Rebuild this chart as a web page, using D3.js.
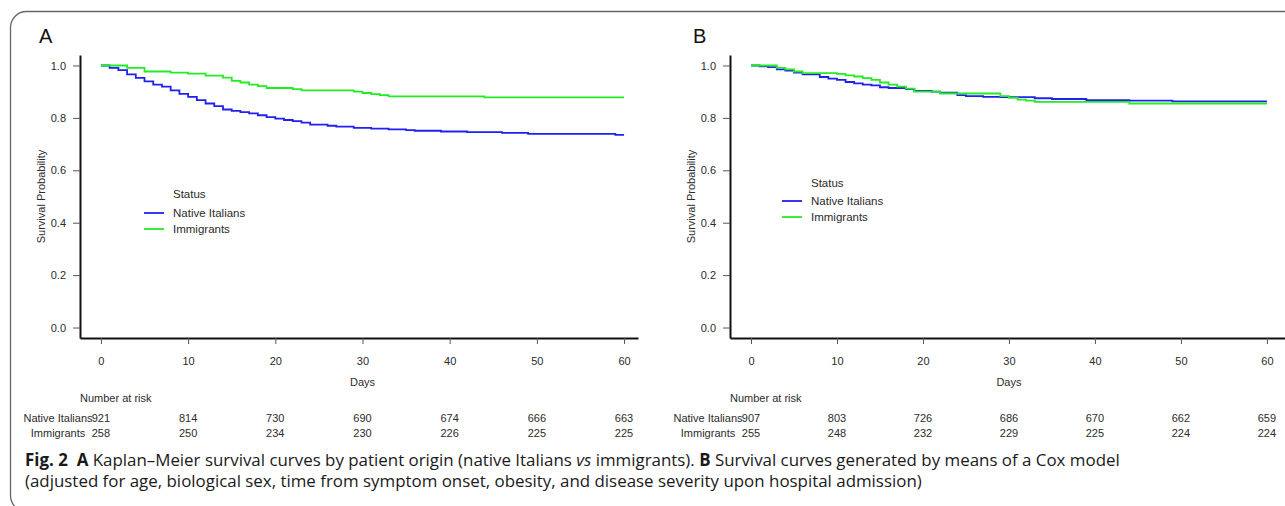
<!DOCTYPE html>
<html>
<head>
<meta charset="utf-8">
<script src="https://cdn.jsdelivr.net/npm/d3@7"></script>
<style>
  body { margin: 0; background: #fff; }
  #graph { width: 1285px; height: 506px; }
  svg { display: block; }
</style>
</head>
<body>
<div id="graph"></div>
<script>
const width = 1285;
const height = 506;

const groups = ["Native Italians", "Immigrants"];
const group_colors = ["#2020f0", "#22ec22"];
const day_ticks = [0, 10, 20, 30, 40, 50, 60];
const surv_ticks = [0.0, 0.2, 0.4, 0.6, 0.8, 1.0];
const last_day = 60;

// panel A - Kaplan-Meier, day of each drop and survival right after it
const a_native_days = [0, 1, 2, 3, 4, 5, 6, 7, 8, 9, 10, 11, 12, 13, 14, 15, 16, 17, 18, 19, 20, 21, 22, 23, 24, 26, 27, 29, 31, 33, 35, 36, 39, 42, 46, 49, 59];
const a_native_surv = [1.0, 0.991, 0.982, 0.966, 0.953, 0.939, 0.927, 0.919, 0.905, 0.892, 0.880, 0.868, 0.855, 0.845, 0.832, 0.827, 0.822, 0.817, 0.810, 0.803, 0.797, 0.792, 0.788, 0.782, 0.774, 0.770, 0.767, 0.762, 0.759, 0.756, 0.753, 0.751, 0.748, 0.746, 0.743, 0.739, 0.735];
const a_immig_days = [0, 3, 5, 8, 10, 12, 14, 15, 16, 17, 18, 19, 22, 23, 29, 30, 31, 32, 33, 44];
const a_immig_surv = [1.0, 0.991, 0.977, 0.973, 0.969, 0.961, 0.954, 0.941, 0.935, 0.927, 0.921, 0.914, 0.910, 0.905, 0.900, 0.895, 0.891, 0.887, 0.882, 0.878];

// panel B - adjusted Cox model curves
const b_native_days = [0, 1, 2, 3, 4, 5, 6, 8, 9, 10, 11, 12, 13, 14, 15, 16, 18, 19, 21, 22, 24, 25, 27, 29, 33, 35, 39, 44, 49];
const b_native_surv = [1.0, 0.997, 0.994, 0.985, 0.980, 0.973, 0.966, 0.956, 0.950, 0.945, 0.937, 0.932, 0.927, 0.924, 0.917, 0.914, 0.910, 0.903, 0.900, 0.896, 0.887, 0.883, 0.880, 0.879, 0.875, 0.872, 0.868, 0.866, 0.863];
const b_immig_days = [0, 3, 4, 5, 6, 10, 11, 12, 13, 14, 15, 16, 17, 18, 19, 22, 29, 30, 31, 32, 33, 44];
const b_immig_surv = [1.0, 0.991, 0.985, 0.977, 0.971, 0.968, 0.962, 0.958, 0.952, 0.945, 0.935, 0.927, 0.919, 0.912, 0.900, 0.893, 0.883, 0.876, 0.870, 0.866, 0.861, 0.855];

// number at risk tables
const a_risk_native = [921, 814, 730, 690, 674, 666, 663];
const a_risk_immig = [258, 250, 234, 230, 226, 225, 225];
const b_risk_native = [907, 803, 726, 686, 670, 662, 659];
const b_risk_immig = [255, 248, 232, 229, 225, 224, 224];

const chart_font = "'Liberation Sans', Arial, sans-serif";
const text_color = "#2b2b2b";

// layout of both panels (pixel boxes, x domain stretched like R's 4% padding)
const panels = [
  { label: "A", label_x: 39, x_domain: [-2.4, 61.6], x_range: [80, 638], leg_x: 144, leg_y: 194, leg_gap: [19, 35],
    series: [[a_native_days, a_native_surv], [a_immig_days, a_immig_surv]], risk: [a_risk_native, a_risk_immig] },
  { label: "B", label_x: 693, x_domain: [-2.44, 62.8], x_range: [730, 1291], leg_x: 782, leg_y: 183, leg_gap: [18, 34],
    series: [[b_native_days, b_native_surv], [b_immig_days, b_immig_surv]], risk: [b_risk_native, b_risk_immig] }
];

const y_top = 55, y_bottom = 338;

const svg = d3.select('#graph')
  .append('svg')
  .attr('width', width)
  .attr('height', height);

// rounded frame around the whole figure (right and bottom side run off the page)
svg.append('rect')
  .attr('x', 10.5).attr('y', 11.5)
  .attr('width', 1320).attr('height', 500)
  .attr('rx', 16)
  .attr('fill', 'none')
  .attr('stroke', '#666')
  .attr('stroke-width', 1.3);

function step_points(days, surv) {
  let pts = days.map((d, i) => [d, surv[i]]);
  pts.push([last_day, surv[surv.length - 1]]);
  return pts;
}

function style_axis(sel) {
  sel.select('.domain').attr('stroke', '#111').attr('stroke-width', 2);
  sel.selectAll('.tick line').attr('stroke', '#555').attr('stroke-width', 1);
  sel.selectAll('.tick text')
    .attr('fill', text_color)
    .style('font-family', chart_font)
    .style('font-size', '11px');
}

panels.forEach(p => {
  const x = d3.scaleLinear().domain(p.x_domain).range(p.x_range);
  const y = d3.scaleLinear().domain([-0.04, 1.04]).range([y_bottom, y_top]);
  const axis_x = p.x_range[0];
  const g = svg.append('g');

  g.append('text')
    .attr('x', p.label_x).attr('y', 43)
    .style('font-family', chart_font)
    .style('font-size', '20px')
    .attr('fill', '#111')
    .text(p.label);

  g.append('g')
    .attr('transform', `translate(0,${y_bottom})`)
    .call(d3.axisBottom(x).tickValues(day_ticks).tickSize(6).tickPadding(13).tickSizeOuter(0))
    .call(style_axis);

  g.append('g')
    .attr('transform', `translate(${axis_x},0)`)
    .call(d3.axisLeft(y).tickValues(surv_ticks).tickFormat(d3.format('.1f')).tickSize(7).tickPadding(7).tickSizeOuter(0))
    .call(style_axis);

  g.append('text')
    .attr('x', x(30)).attr('y', 386)
    .attr('text-anchor', 'middle')
    .style('font-family', chart_font).style('font-size', '11px')
    .attr('fill', text_color)
    .text('Days');

  g.append('text')
    .attr('transform', `translate(${axis_x - 35},${(y_top + y_bottom) / 2}) rotate(-90)`)
    .attr('text-anchor', 'middle')
    .style('font-family', chart_font).style('font-size', '11px')
    .attr('fill', text_color)
    .text('Survival Probability');

  // survival curves
  const line = d3.line()
    .x(d => x(d[0]))
    .y(d => y(d[1]))
    .curve(d3.curveStepAfter);

  p.series.forEach((s, i) => {
    g.append('path')
      .datum(step_points(s[0], s[1]))
      .attr('d', line)
      .attr('fill', 'none')
      .attr('stroke', group_colors[i])
      .attr('stroke-width', 1.8);
  });

  // legend
  g.append('text')
    .attr('x', p.leg_x + 29).attr('y', p.leg_y + 4)
    .style('font-family', chart_font).style('font-size', '11.5px')
    .attr('fill', text_color)
    .text('Status');

  groups.forEach((name, i) => {
    let ly = p.leg_y + p.leg_gap[i];
    g.append('line')
      .attr('x1', p.leg_x).attr('x2', p.leg_x + 20)
      .attr('y1', ly).attr('y2', ly)
      .attr('stroke', group_colors[i])
      .attr('stroke-width', 1.8);
    g.append('text')
      .attr('x', p.leg_x + 29).attr('y', ly + 4)
      .style('font-family', chart_font).style('font-size', '11.5px')
      .attr('fill', text_color)
      .text(name);
  });

  // number at risk table
  g.append('text')
    .attr('x', axis_x).attr('y', 402)
    .style('font-family', chart_font).style('font-size', '11px')
    .attr('fill', text_color)
    .text('Number at risk');

  groups.forEach((name, i) => {
    let ry = 422 + i * 15;
    g.append('text')
      .attr('x', axis_x - 22).attr('y', ry)
      .attr('text-anchor', 'middle')
      .style('font-family', chart_font).style('font-size', '11px')
      .attr('fill', text_color)
      .text(name);
    g.selectAll(null)
      .data(p.risk[i])
      .enter()
      .append('text')
      .attr('x', (d, j) => x(day_ticks[j]))
      .attr('y', ry)
      .attr('text-anchor', 'middle')
      .style('font-family', chart_font).style('font-size', '11px')
      .attr('fill', text_color)
      .text(d => d);
  });
});

// figure caption
const caption_lines = [
  [["Fig. 2", "bold"], ["\u00a0\u00a0", ""], ["A", "bold"], [" Kaplan\u2013Meier survival curves by patient origin (native Italians ", ""], ["vs", "italic"], [" immigrants). ", ""], ["B", "bold"], [" Survival curves generated by means of a Cox model", ""]],
  [["(adjusted for age, biological sex, time from symptom onset, obesity, and disease severity upon hospital admission)", ""]]
];

const caption = svg.append('g')
  .style('font-family', "'Open Sans', 'Noto Sans', sans-serif")
  .style('font-size', '15px')
  .attr('fill', '#1a1a1a');

caption_lines.forEach((parts, i) => {
  let t = caption.append('text')
    .attr('class', 'cap')
    .attr('x', 25)
    .attr('y', 466 + i * 21)
    .attr('xml:space', 'preserve');
  parts.forEach(part => {
    let ts = t.append('tspan').text(part[0]);
    if (part[1] == 'bold') ts.style('font-weight', 'bold');
    if (part[1] == 'italic') ts.style('font-style', 'italic');
  });
});

// fit caption size to the width of the second line (~897px in the original)
let second = caption.selectAll('.cap').nodes()[1];
let measured = second.getComputedTextLength();
caption.style('font-size', (15 * 897 / measured).toFixed(2) + 'px');
</script>
</body>
</html>
